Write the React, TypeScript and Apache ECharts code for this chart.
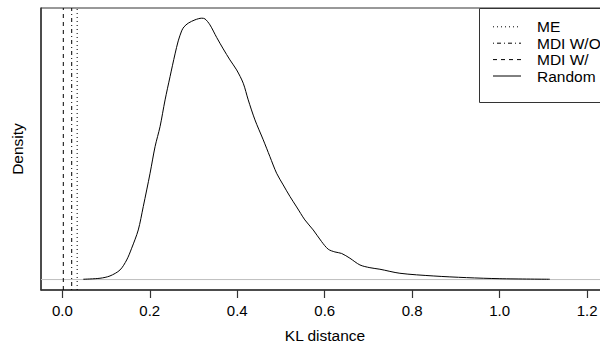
import React, { useEffect, useRef } from "react";
import * as echarts from "echarts";

// KL distance (x) and density (y) of the "Random" curve
const randomX = [
  0.048, 0.0862, 0.109, 0.1319, 0.1472, 0.1586, 0.1737, 0.1851, 0.2007, 0.2121,
  0.2235, 0.235, 0.2464, 0.2578, 0.2651, 0.2729, 0.2782, 0.288, 0.3033, 0.3186,
  0.3262, 0.3376, 0.3529, 0.368, 0.3833, 0.3986, 0.4137, 0.4251, 0.4405, 0.4594,
  0.4747, 0.49, 0.5051, 0.5207, 0.5358, 0.5547, 0.5737, 0.5929, 0.608, 0.6233,
  0.6386, 0.6576, 0.6805, 0.7033, 0.7262, 0.7719, 0.848, 0.9243, 1.0005, 1.1147,
];
const randomY = [
  0.005, 0.021, 0.058, 0.154, 0.315, 0.504, 0.798, 1.173, 1.71, 2.138,
  2.46, 2.89, 3.265, 3.63, 3.839, 4.0, 4.064, 4.124, 4.177, 4.204,
  4.193, 4.097, 3.895, 3.71, 3.533, 3.372, 3.158, 2.89, 2.568, 2.248,
  1.977, 1.71, 1.522, 1.334, 1.168, 0.959, 0.798, 0.61, 0.488, 0.444,
  0.42, 0.343, 0.235, 0.191, 0.166, 0.101, 0.058, 0.031, 0.014, 0.005,
];

// vertical reference lines
const refNames = ["ME", "MDI W/O", "MDI W/"];
const refValues = [0.034, 0.0215, 0.0023];
const refDash: number[][] = [[1, 3], [1, 3, 4, 3], [4, 4]];

const legendNames = ["ME", "MDI W/O", "MDI W/", "Random"];
const legendDash: (number[] | null)[] = [[1, 3], [1, 3, 4, 3], [4, 4], null];

const xTicks = [0.0, 0.2, 0.4, 0.6, 0.8, 1.0, 1.2];

const X_MIN = -0.0487;
const X_MAX = 1.25;
const PEAK = 4.2;
const Y_MIN = -0.04 * PEAK;
const Y_MAX = 1.04 * PEAK;

const FONT = "'Liberation Sans', Arial, Helvetica, sans-serif";

export default function App() {
  const ref = useRef<HTMLDivElement>(null);
  useEffect(() => {
    if (!ref.current) return;
    const chart = echarts.init(ref.current, undefined, { renderer: "svg" });

    const refSeries = refNames.map((n, i) => ({
      name: n,
      type: "line",
      data: [
        [refValues[i], Y_MIN],
        [refValues[i], Y_MAX],
      ],
      symbol: "none",
      lineStyle: { color: "#000", width: 1, type: refDash[i] },
      silent: true,
    }));

    const legendTop = 8;
    const rowY = [26.8, 43.2, 59.6, 76];
    const legendGraphics: any[] = [
      {
        type: "rect",
        shape: { x: 479.5, y: legendTop + 0.5, width: 140, height: 94 },
        style: { fill: "#fff", stroke: "#333", lineWidth: 1 },
        z: 100,
      },
    ];
    legendNames.forEach((n, i) => {
      legendGraphics.push({
        type: "line",
        shape: { x1: 493, y1: rowY[i], x2: 521, y2: rowY[i] },
        style: {
          stroke: "#000",
          lineWidth: 1,
          lineDash: legendDash[i] || undefined,
        },
        z: 101,
      });
      legendGraphics.push({
        type: "text",
        x: 537,
        y: rowY[i],
        style: {
          text: n,
          fill: "#000",
          font: `15.5px ${FONT}`,
          verticalAlign: "middle",
          align: "left",
        },
        z: 101,
      });
    });

    chart.setOption({
      animation: false,
      backgroundColor: "#fff",
      grid: {
        left: 41,
        right: 11,
        top: 8,
        bottom: 58,
        show: true,
        borderColor: "#333",
        borderWidth: 1,
        containLabel: false,
      },
      xAxis: {
        type: "value",
        min: X_MIN,
        max: X_MAX,
        name: "KL distance",
        nameLocation: "middle",
        nameGap: 37,
        nameTextStyle: { color: "#000", fontSize: 15.5, fontFamily: FONT },
        splitLine: { show: false },
        axisLine: { show: true, onZero: false, lineStyle: { color: "#333", width: 1.5 } },
        axisTick: {
          show: true,
          length: 8,
          lineStyle: { color: "#333", width: 1.2 },
          customValues: xTicks,
        },
        axisLabel: {
          show: true,
          margin: 13,
          color: "#000",
          fontSize: 15,
          fontFamily: FONT,
          customValues: xTicks,
          formatter: (v: number) => v.toFixed(1),
        },
      },
      yAxis: {
        type: "value",
        min: Y_MIN,
        max: Y_MAX,
        name: "Density",
        nameLocation: "middle",
        nameGap: 16,
        nameTextStyle: { color: "#000", fontSize: 15.5, fontFamily: FONT },
        splitLine: { show: false },
        axisLine: { show: true, onZero: false, lineStyle: { color: "#333", width: 1.5 } },
        axisTick: { show: false },
        axisLabel: { show: false },
      },
      graphic: legendGraphics,
      series: [
        {
          name: "zero",
          type: "line",
          data: [
            [X_MIN, 0],
            [X_MAX, 0],
          ],
          symbol: "none",
          lineStyle: { color: "#bebebe", width: 1 },
          silent: true,
        },
        ...refSeries,
        {
          name: "Random",
          type: "line",
          data: randomX.map((x, i) => [x, randomY[i]]),
          symbol: "none",
          smooth: 0.3,
          lineStyle: { color: "#000", width: 1 },
          silent: true,
        },
      ],
    });
    return () => chart.dispose();
  }, []);
  return (
    <div
      style={{
        position: "fixed",
        left: 0,
        top: 0,
        width: 600,
        height: 348,
        overflow: "hidden",
        background: "#fff",
      }}
    >
      <div ref={ref} style={{ width: 620, height: 348 }} />
    </div>
  );
}
